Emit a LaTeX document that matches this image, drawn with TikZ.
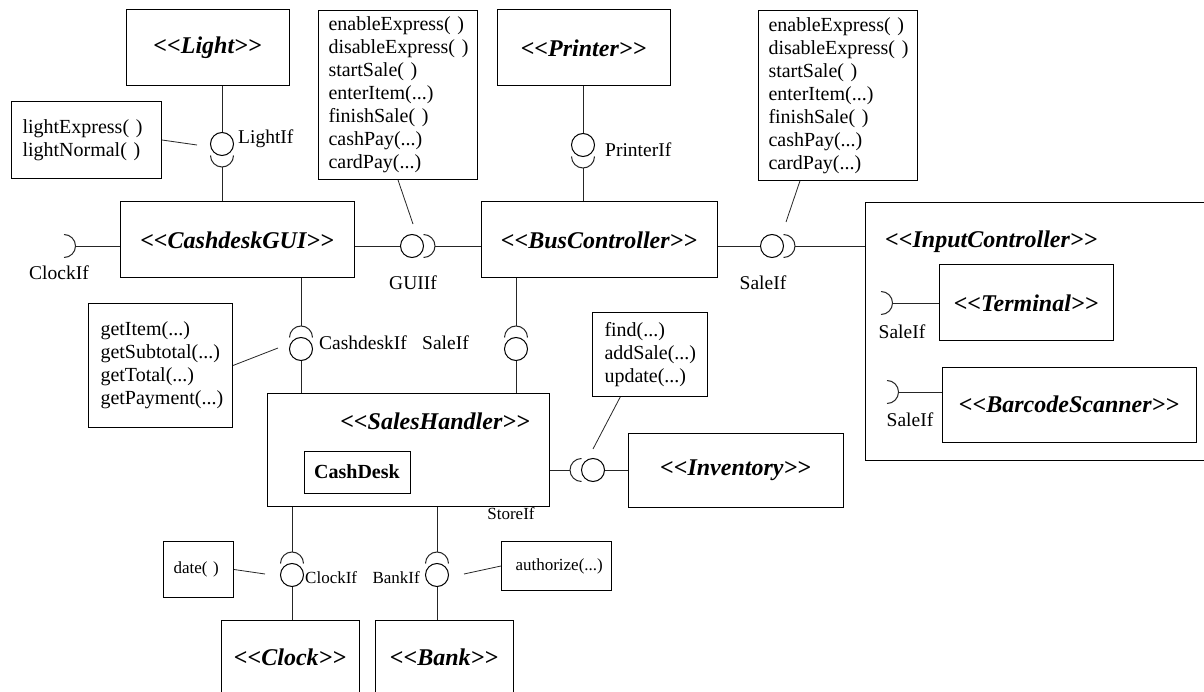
\documentclass[tikz,border=0pt]{standalone}
\usepackage{fontspec}
\setmainfont{Liberation Serif}
\usepackage{tikz}
\usetikzlibrary{calc}
\newcommand{\stereo}[1]{{<}{<}#1{>}{>}}
\tikzset{
    title/.style = {inner sep=0,font=\fontsize{24}{28}\selectfont\bfseries\itshape},
    comp/.style = {title,draw,line width=1pt},
    note/.style = {draw,line width=1pt,anchor=north west,align=left,inner xsep=10pt,inner ysep=0,font=\fontsize{20}{23}\selectfont},
    smallnote/.style = {note,font=\fontsize{17}{21}\selectfont},
    ball/.style = {draw,circle,line width=1pt,inner sep=0,minimum size=23pt},
    link/.style = {line width=0.8pt,black!85},
    iflabel/.style = {inner sep=0,font=\fontsize{19.5}{23}\selectfont},
    smalllabel/.style = {inner sep=0,font=\fontsize{17}{21}\selectfont}
}
\begin{document}
\begin{tikzpicture}[x=1pt,y=-1pt]
        \useasboundingbox (0,0) rectangle (1204,692);
        % Components
        \node[comp,minimum width=163,minimum height=76] (light) at (207.5,48) {\stereo{Light}};
        \node[comp,minimum width=173,minimum height=76] (printer) at (583.5,48) {\stereo{Printer}};
        \node[comp,minimum width=234,minimum height=76] (gui) at (237,240) {\stereo{CashdeskGUI}};
        \node[comp,minimum width=236,minimum height=76] (bus) at (599,240) {\stereo{BusController}};
        \node[comp,minimum width=341,minimum height=257] (input) at (1035.5,331.5) {};
        \node[title,anchor=west] (inputt) at (885,242) {\stereo{InputController}};
        \node[comp,minimum width=174,minimum height=76] (term) at (1026,303) {\stereo{Terminal}};
        \node[comp,minimum width=254,minimum height=75] (bar) at (1069,404.5) {\stereo{BarcodeScanner}};
        \node[comp,minimum width=282,minimum height=113] (sales) at (408,449.5) {};
        \node[title] (salest) at (435,421) {\stereo{SalesHandler}};
        \node[draw,line width=1pt,minimum width=106,minimum height=42,font=\fontsize{20}{24}\selectfont\bfseries] (cashdesk) at (357,472) {CashDesk};
        \node[comp,minimum width=215,minimum height=74] (inv) at (735.5,470) {\stereo{Inventory}};
        \node[comp,minimum width=138,minimum height=74] (clock) at (290,657) {\stereo{Clock}};
        \node[comp,minimum width=138,minimum height=74] (bank) at (444,657) {\stereo{Bank}};
        % Notes
        \node[note,inner xsep=11pt,text width=128,minimum height=77] (lnote) at (11,101) {lightExpress(~)\\lightNormal(~)};
        \node[note,text width=139,minimum height=169] (en1) at (318,10) {enableExpress(~)\\disableExpress(~)\\startSale(~)\\enterItem(...)\\finishSale(~)\\cashPay(...)\\cardPay(...)};
        \node[note,text width=139,minimum height=170] (en2) at (758,10) {enableExpress(~)\\disableExpress(~)\\startSale(~)\\enterItem(...)\\finishSale(~)\\cashPay(...)\\cardPay(...)};
        \node[note,inner xsep=12pt,text width=120,minimum height=124] (items) at (88,303) {getItem(...)\\getSubtotal(...)\\getTotal(...)\\getPayment(...)};
        \node[note,inner xsep=12pt,text width=91,minimum height=84] (find) at (592,312) {find(...)\\addSale(...)\\update(...)};
        \node[smallnote,text width=50,minimum height=56] (date) at (163,541) {date(~)};
        \node[smallnote,inner xsep=14pt,text width=82,minimum height=49] (auth) at (501,541) {authorize(...)};
        % Interfaces
        \node[ball] (lif) at (222,144) {};
        \node[ball] (pif) at (583,145) {};
        \node[ball] (gif) at (412,246) {};
        \node[ball] (sif) at (772,246) {};
        \node[ball] (cif) at (301,349) {};
        \node[ball] (sif2) at (516,349) {};
        \node[ball] (stif) at (593,470) {};
        \node[ball] (clif) at (292,575) {};
        \node[ball] (bkif) at (437,575) {};
        \coordinate (ckif) at (52.5,246);
        \coordinate (tmif) at (869.5,303);
        \coordinate (bcif) at (875.5,392);
        % Labels
        \node[iflabel,anchor=west] (lifl) at (238,139) {LightIf};
        \node[iflabel,anchor=west] (pifl) at (605,150) {PrinterIf};
        \node[iflabel] (ckifl) at (59,273) {ClockIf};
        \node[iflabel] (gifl) at (413,283) {GUIIf};
        \node[iflabel] (sifl) at (763,283) {SaleIf};
        \node[iflabel,anchor=west] (cifl) at (319,343) {CashdeskIf};
        \node[iflabel,anchor=west] (sif2l) at (422,343) {SaleIf};
        \node[smalllabel] (stifl) at (511,514) {StoreIf};
        \node[smalllabel,anchor=west] (clifl) at (305,578) {ClockIf};
        \node[smalllabel,anchor=east] (bkifl) at (420,578) {BankIf};
        \node[iflabel] (tmifl) at (902,332) {SaleIf};
        \node[iflabel] (bcifl) at (910,420) {SaleIf};
        % Sockets
        \foreach \b/\dir in {lif/270,pif/270,gif/0,sif/0,cif/90,sif2/90,stif/180,clif/90,bkif/90,ckif/0,tmif/0,bcif/0}{
            \coordinate (tip\b) at ($(\b)+(\dir:23pt)$);
            \draw[link,line width=1pt] ($(\b)+(\dir:11.5pt)+(\dir-90:11.5pt)$) arc[start angle=\dir-90,end angle=\dir+90,radius=11.5pt];
        }
        % Links
        \foreach \src/\dest in {lif/light.south,tiplif/gui.north,pif/printer.south,tippif/bus.north,tipcif/gui.south,cif/sales.north,tipsif2/bus.south,sif2/sales.north,tipclif/sales.south,clif/clock.north,tipbkif/sales.south,bkif/bank.north}
            \draw[link] (\src) -- (\src |- \dest);
        \foreach \src/\dest in {gif/gui.east,tipgif/bus.west,sif/bus.east,tipsif/input.west,stif/inv.west,tipstif/sales.east,tipckif/gui.west,tiptmif/term.west,tipbcif/bar.west}
            \draw[link] (\src) -- (\src -| \dest);
        % Note links
        \coordinate (lnoteend) at (197,145);
        \coordinate (en1end) at (413,224);
        \coordinate (en2end) at (786,222);
        \coordinate (itemsend) at (278,348);
        \coordinate (findend) at (593,449);
        \coordinate (dateend) at (265,574);
        \coordinate (authend) at (464,574);
        \foreach \src/\dest in {lnote.east/lnoteend,en1.south/en1end,en2.246/en2end,items.east/itemsend,find.235/findend,date.east/dateend,auth.west/authend}
            \draw[link] (\src) -- (\dest);
    \end{tikzpicture}
\end{document}
